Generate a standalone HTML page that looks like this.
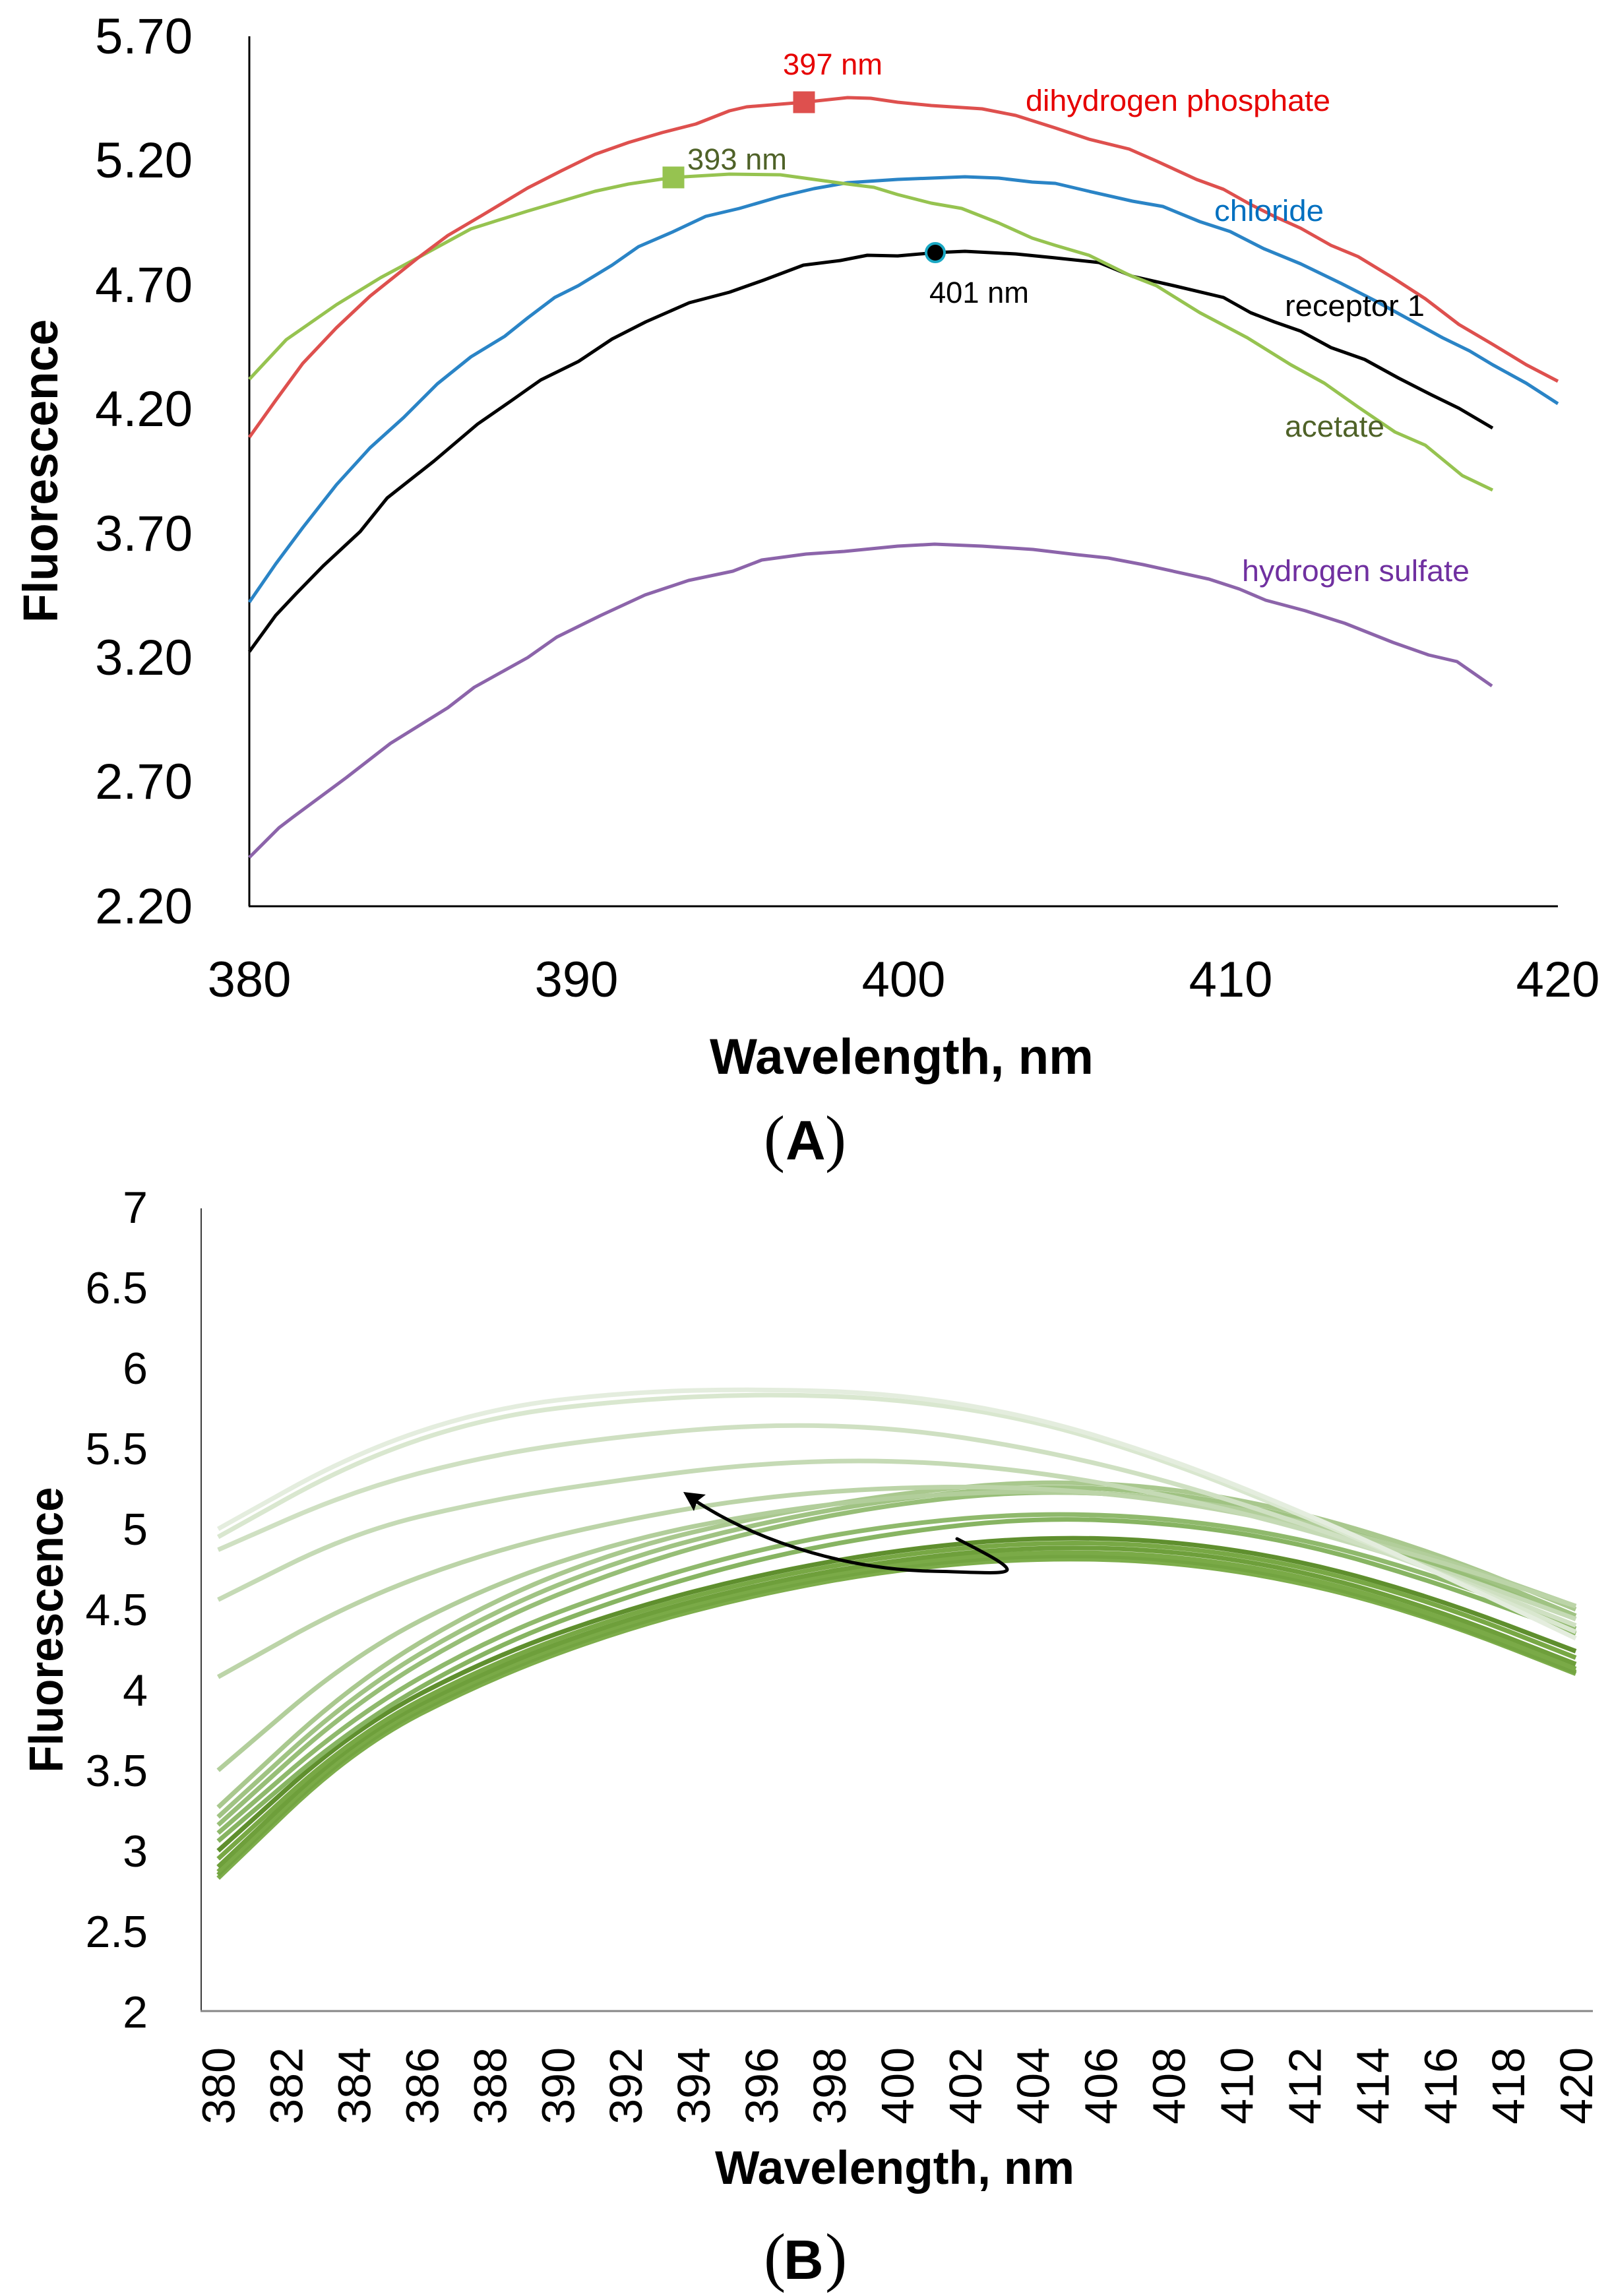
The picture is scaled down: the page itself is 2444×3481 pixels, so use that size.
<!DOCTYPE html>
<html>
<head>
<meta charset="utf-8">
<style>
  html, body { margin: 0; padding: 0; background: #ffffff; }
  svg { display: block; }
  text { font-family: "Liberation Sans", Arial, sans-serif; }
</style>
</head>
<body>
<svg width="2444" height="3481" viewBox="0 0 2444 3481" xmlns="http://www.w3.org/2000/svg">
  <rect x="0" y="0" width="2444" height="3481" fill="#ffffff"/>

  <!-- ================= CHART A ================= -->
  <!-- axes -->
  <line x1="378" y1="55" x2="378" y2="1374" stroke="#000" stroke-width="3"/>
  <line x1="377" y1="1374" x2="2362" y2="1374" stroke="#000" stroke-width="3"/>

  <!-- y tick labels -->
  <g font-size="76" fill="#000" text-anchor="end">
    <text x="292" y="81">5.70</text>
    <text x="292" y="269">5.20</text>
    <text x="292" y="458">4.70</text>
    <text x="292" y="646">4.20</text>
    <text x="292" y="835">3.70</text>
    <text x="292" y="1023">3.20</text>
    <text x="292" y="1211">2.70</text>
    <text x="292" y="1400">2.20</text>
  </g>
  <!-- x tick labels -->
  <g font-size="76" fill="#000" text-anchor="middle">
    <text x="378" y="1511">380</text>
    <text x="874" y="1511">390</text>
    <text x="1370" y="1511">400</text>
    <text x="1866" y="1511">410</text>
    <text x="2362" y="1511">420</text>
  </g>
  <!-- axis titles -->
  <text x="1076" y="1628" font-size="76" font-weight="bold" textLength="582" lengthAdjust="spacingAndGlyphs">Wavelength, nm</text>
  <text transform="translate(87,714) rotate(-90)" font-size="74" font-weight="bold" text-anchor="middle" textLength="460" lengthAdjust="spacingAndGlyphs">Fluorescence</text>

  <!-- series -->
  <g fill="none" stroke-width="5" stroke-linejoin="round" stroke-linecap="butt">
    <polyline stroke="#8c64aa" points="378,1300 423,1255 444,1239 525,1179 592,1127 679,1073 719,1042 800,997 844,966 911,933 978,902 1044,880 1111,866 1155,849 1222,840 1280,836 1361,828 1417,825 1489,828 1566,833 1633,841 1680,846 1733,856 1833,878 1879,893 1919,910 1979,926 2039,945 2112,974 2166,993 2209,1003 2262,1040"/>
    <polyline stroke="#000000" points="378,988 418,933 449,900 490,858 546,806 587,755 658,699 724,643 776,607 800,590 820,576 877,548 928,514 979,488 1045,459 1106,443 1157,425 1218,402 1274,395 1315,387 1361,388 1418,383 1463,381 1540,385 1600,391 1666,398 1717,419 1779,433 1855,451 1896,474 1932,488 1972,502 2018,527 2069,545 2120,573 2171,599 2212,619 2263,649"/>
    <polyline stroke="#2a84c6" points="378,913 418,855 459,800 510,735 561,679 612,633 663,582 714,541 765,510 800,482 841,451 877,433 928,402 968,374 1019,352 1070,328 1121,316 1183,298 1234,286 1285,277 1361,272 1463,268 1514,270 1565,276 1600,278 1651,290 1717,305 1763,313 1819,336 1865,351 1916,377 1972,400 2034,430 2085,456 2136,484 2187,512 2228,532 2263,553 2314,581 2362,612"/>
    <polyline stroke="#96c350" points="378,575 434,515 510,462 577,421 635,390 714,347 755,334 800,320 851,305 902,290 953,279 1021,269 1106,264 1183,265 1234,272 1285,279 1325,284 1361,295 1412,308 1458,316 1514,338 1565,361 1600,372 1651,387 1712,417 1753,433 1819,474 1891,512 1957,553 2008,581 2059,617 2115,655 2161,675 2217,721 2263,743"/>
    <polyline stroke="#de504e" points="378,663 418,607 459,551 510,497 561,449 635,390 679,357 730,327 765,306 800,285 851,259 902,234 953,216 1004,201 1055,188 1106,168 1132,162 1219,155 1285,148 1320,149 1361,155 1412,160 1489,165 1540,175 1600,194 1651,211 1712,226 1753,244 1814,272 1855,287 1896,310 1932,328 1972,346 2018,372 2059,389 2110,420 2161,453 2212,492 2263,522 2314,553 2362,578"/>
  </g>

  <!-- markers -->
  <rect x="1202.5" y="138.5" width="33" height="33" fill="#de504e"/>
  <rect x="1004.5" y="252.5" width="33" height="33" fill="#96c350"/>
  <circle cx="1418" cy="383" r="14" fill="#000" stroke="#1aa8c4" stroke-width="4"/>

  <!-- data labels -->
  <g font-size="45">
    <text x="1187" y="113" fill="#e60000" textLength="151" lengthAdjust="spacingAndGlyphs">397 nm</text>
    <text x="1042" y="257" fill="#4f6228" textLength="151" lengthAdjust="spacingAndGlyphs">393 nm</text>
    <text x="1409" y="459" fill="#000000" textLength="151" lengthAdjust="spacingAndGlyphs">401 nm</text>
    <text x="1555" y="168" fill="#e60000" textLength="462" lengthAdjust="spacingAndGlyphs">dihydrogen phosphate</text>
    <text x="1841" y="335" fill="#0070c0" textLength="166" lengthAdjust="spacingAndGlyphs">chloride</text>
    <text x="1948" y="479" fill="#000000" textLength="212" lengthAdjust="spacingAndGlyphs">receptor 1</text>
    <text x="1948" y="662" fill="#4f6228" textLength="151" lengthAdjust="spacingAndGlyphs">acetate</text>
    <text x="1883" y="881" fill="#7030a0" textLength="345" lengthAdjust="spacingAndGlyphs">hydrogen sulfate</text>
  </g>

  <!-- (A) -->
  <text x="1158" y="1758" font-size="96" font-family="Liberation Serif, serif" style="font-family:'Liberation Serif',serif">(</text>
  <text x="1191" y="1758" font-size="84" font-weight="bold">A</text>
  <text x="1251" y="1758" font-size="96" style="font-family:'Liberation Serif',serif">)</text>

  <!-- ================= CHART B ================= -->
  <line x1="305" y1="1832" x2="305" y2="3049" stroke="#3a3a3a" stroke-width="2"/>
  <line x1="304" y1="3049" x2="2415" y2="3049" stroke="#868686" stroke-width="3"/>

  <g font-size="68" fill="#000" text-anchor="end">
    <text x="224" y="1854">7</text>
    <text x="224" y="1976">6.5</text>
    <text x="224" y="2098">6</text>
    <text x="224" y="2220">5.5</text>
    <text x="224" y="2342">5</text>
    <text x="224" y="2464">4.5</text>
    <text x="224" y="2586">4</text>
    <text x="224" y="2708">3.5</text>
    <text x="224" y="2830">3</text>
    <text x="224" y="2952">2.5</text>
    <text x="224" y="3074">2</text>
  </g>

  <g font-size="70" fill="#000" text-anchor="end">
    <text transform="translate(355.7,3104) rotate(-90)">380</text>
    <text transform="translate(458.6,3104) rotate(-90)">382</text>
    <text transform="translate(561.5,3104) rotate(-90)">384</text>
    <text transform="translate(664.5,3104) rotate(-90)">386</text>
    <text transform="translate(767.4,3104) rotate(-90)">388</text>
    <text transform="translate(870.3,3104) rotate(-90)">390</text>
    <text transform="translate(973.2,3104) rotate(-90)">392</text>
    <text transform="translate(1076.1,3104) rotate(-90)">394</text>
    <text transform="translate(1179.1,3104) rotate(-90)">396</text>
    <text transform="translate(1282,3104) rotate(-90)">398</text>
    <text transform="translate(1384.9,3104) rotate(-90)">400</text>
    <text transform="translate(1487.8,3104) rotate(-90)">402</text>
    <text transform="translate(1590.7,3104) rotate(-90)">404</text>
    <text transform="translate(1693.7,3104) rotate(-90)">406</text>
    <text transform="translate(1796.6,3104) rotate(-90)">408</text>
    <text transform="translate(1899.5,3104) rotate(-90)">410</text>
    <text transform="translate(2002.4,3104) rotate(-90)">412</text>
    <text transform="translate(2105.3,3104) rotate(-90)">414</text>
    <text transform="translate(2208.3,3104) rotate(-90)">416</text>
    <text transform="translate(2311.2,3104) rotate(-90)">418</text>
    <text transform="translate(2414.1,3104) rotate(-90)">420</text>
  </g>

  <text x="1084" y="3311" font-size="71" font-weight="bold" textLength="545" lengthAdjust="spacingAndGlyphs">Wavelength, nm</text>
  <text transform="translate(95,2471) rotate(-90)" font-size="72" font-weight="bold" text-anchor="middle" textLength="433" lengthAdjust="spacingAndGlyphs">Fluorescence</text>

  <!-- series B (data coords: u = nm-380, v = fluorescence) -->
  <g transform="matrix(51.46,0,0,-244,330.7,3538)" fill="none" stroke-width="7" stroke-linejoin="round">
    <path vector-effect="non-scaling-stroke" stroke="#7dad4b" d="M0,2.83 L2,3.235 Q4,3.64 6,3.855 Q8,4.07 10,4.225 Q12,4.38 14,4.49 Q16,4.6 18,4.675 Q20,4.75 22,4.785 Q24,4.82 26,4.81 Q28,4.8 30,4.735 Q32,4.67 34,4.55 Q36,4.43 38,4.265 L40,4.1"/>
    <path vector-effect="non-scaling-stroke" stroke="#73a441" d="M0,2.85 L2,3.255 Q4,3.66 6,3.875 Q8,4.09 10,4.245 Q12,4.4 14,4.51 Q16,4.62 18,4.695 Q20,4.77 22,4.805 Q24,4.84 26,4.83 Q28,4.82 30,4.755 Q32,4.69 34,4.565 Q36,4.44 38,4.275 L40,4.11"/>
    <path vector-effect="non-scaling-stroke" stroke="#7aaa47" d="M0,2.87 L2,3.275 Q4,3.68 6,3.895 Q8,4.11 10,4.265 Q12,4.42 14,4.53 Q16,4.64 18,4.715 Q20,4.79 22,4.825 Q24,4.86 26,4.85 Q28,4.84 30,4.775 Q32,4.71 34,4.585 Q36,4.46 38,4.295 L40,4.13"/>
    <path vector-effect="non-scaling-stroke" stroke="#6e9f3b" d="M0,2.9 L2,3.3 Q4,3.7 6,3.915 Q8,4.13 10,4.285 Q12,4.44 14,4.55 Q16,4.66 18,4.735 Q20,4.81 22,4.85 Q24,4.89 26,4.88 Q28,4.87 30,4.805 Q32,4.74 34,4.615 Q36,4.49 38,4.325 L40,4.16"/>
    <path vector-effect="non-scaling-stroke" stroke="#78a845" d="M0,2.95 L2,3.335 Q4,3.72 6,3.94 Q8,4.16 10,4.315 Q12,4.47 14,4.58 Q16,4.69 18,4.765 Q20,4.84 22,4.88 Q24,4.92 26,4.91 Q28,4.9 30,4.835 Q32,4.77 34,4.65 Q36,4.53 38,4.365 L40,4.2"/>
    <path vector-effect="non-scaling-stroke" stroke="#5f8f2e" d="M0,3 L2,3.38 Q4,3.76 6,3.98 Q8,4.2 10,4.35 Q12,4.5 14,4.61 Q16,4.72 18,4.795 Q20,4.87 22,4.91 Q24,4.95 26,4.94 Q28,4.93 30,4.865 Q32,4.8 34,4.68 Q36,4.56 38,4.4 L40,4.24"/>
    <path vector-effect="non-scaling-stroke" stroke="#87b462" d="M0,3.06 L2,3.42 Q4,3.78 6,4.02 Q8,4.26 10,4.42 Q12,4.58 14,4.7 Q16,4.82 18,4.9 Q20,4.98 22,5.025 Q24,5.07 26,5.055 Q28,5.04 30,4.975 Q32,4.91 34,4.785 Q36,4.66 38,4.505 L40,4.35"/>
    <path vector-effect="non-scaling-stroke" stroke="#8fb96c" d="M0,3.11 L2,3.475 Q4,3.84 6,4.08 Q8,4.32 10,4.48 Q12,4.64 14,4.76 Q16,4.88 18,4.955 Q20,5.03 22,5.065 Q24,5.1 26,5.085 Q28,5.07 30,5.005 Q32,4.94 34,4.82 Q36,4.7 38,4.54 L40,4.38"/>
    <path vector-effect="non-scaling-stroke" stroke="#97be77" d="M0,3.16 L2,3.54 Q4,3.92 6,4.17 Q8,4.42 10,4.59 Q12,4.76 14,4.88 Q16,5 18,5.08 Q20,5.16 22,5.2 Q24,5.24 26,5.22 Q28,5.2 30,5.12 Q32,5.04 34,4.91 Q36,4.78 38,4.61 L40,4.44"/>
    <path vector-effect="non-scaling-stroke" stroke="#a0c383" d="M0,3.21 L2,3.595 Q4,3.98 6,4.23 Q8,4.48 10,4.65 Q12,4.82 14,4.93 Q16,5.04 18,5.115 Q20,5.19 22,5.23 Q24,5.27 26,5.25 Q28,5.23 30,5.15 Q32,5.07 34,4.94 Q36,4.81 38,4.635 L40,4.46"/>
    <path vector-effect="non-scaling-stroke" stroke="#a9c88e" d="M0,3.27 L2,3.66 Q4,4.05 6,4.3 Q8,4.55 10,4.715 Q12,4.88 14,4.98 Q16,5.08 18,5.15 Q20,5.22 22,5.26 Q24,5.3 26,5.28 Q28,5.26 30,5.18 Q32,5.1 34,4.97 Q36,4.84 38,4.67 L40,4.5"/>
    <path vector-effect="non-scaling-stroke" stroke="#b2ce9b" d="M0,3.5 L2,3.86 Q4,4.22 6,4.435 Q8,4.65 10,4.79 Q12,4.93 14,5.015 Q16,5.1 18,5.15 Q20,5.2 22,5.22 Q24,5.24 26,5.22 Q28,5.2 30,5.125 Q32,5.05 34,4.935 Q36,4.82 38,4.67 L40,4.52"/>
    <path vector-effect="non-scaling-stroke" stroke="#bcd4a8" d="M0,4.08 L2,4.315 Q4,4.55 6,4.705 Q8,4.86 10,4.96 Q12,5.06 14,5.13 Q16,5.2 18,5.23 Q20,5.26 22,5.26 Q24,5.26 26,5.22 Q28,5.18 30,5.1 Q32,5.02 34,4.91 Q36,4.8 38,4.66 L40,4.52"/>
    <path vector-effect="non-scaling-stroke" stroke="#c5dab5" d="M0,4.56 L2,4.77 Q4,4.98 6,5.08 Q8,5.18 10,5.245 Q12,5.31 14,5.36 Q16,5.41 18,5.42 Q20,5.43 22,5.395 Q24,5.36 26,5.285 Q28,5.21 30,5.105 Q32,5 34,4.875 Q36,4.75 38,4.595 L40,4.44"/>
    <path vector-effect="non-scaling-stroke" stroke="#cfe0c2" d="M0,4.87 L2,5.055 Q4,5.24 6,5.35 Q8,5.46 10,5.52 Q12,5.58 14,5.615 Q16,5.65 18,5.64 Q20,5.63 22,5.565 Q24,5.5 26,5.4 Q28,5.3 30,5.165 Q32,5.03 34,4.88 Q36,4.73 38,4.565 L40,4.4"/>
    <path vector-effect="non-scaling-stroke" stroke="#d9e7cf" d="M0,4.95 L2,5.185 Q4,5.42 6,5.56 Q8,5.7 10,5.75 Q12,5.8 14,5.82 Q16,5.84 18,5.825 Q20,5.81 22,5.745 Q24,5.68 26,5.55 Q28,5.42 30,5.25 Q32,5.08 34,4.9 Q36,4.72 38,4.54 L40,4.36"/>
    <path vector-effect="non-scaling-stroke" stroke="#e4edde" d="M0,5 L2,5.235 Q4,5.47 6,5.61 Q8,5.75 10,5.8 Q12,5.85 14,5.86 Q16,5.87 18,5.855 Q20,5.84 22,5.77 Q24,5.7 26,5.57 Q28,5.44 30,5.27 Q32,5.1 34,4.91 Q36,4.72 38,4.52 L40,4.32"/>
  </g>

  <!-- arrow -->
  <path d="M1451,2333 C1490,2353 1528,2372 1527,2380 C1525,2388 1470,2383 1410,2382 C1300,2380 1160,2345 1052,2274" fill="none" stroke="#000" stroke-width="5" stroke-linecap="round"/>
  <polygon points="1036,2262 1070,2266 1057,2276 1052,2291" fill="#000"/>

  <!-- (B) -->
  <text x="1158" y="3455" font-size="100" style="font-family:'Liberation Serif',serif">(</text>
  <text x="1188" y="3455" font-size="84" font-weight="bold">B</text>
  <text x="1251" y="3455" font-size="100" style="font-family:'Liberation Serif',serif">)</text>
</svg>
</body>
</html>
